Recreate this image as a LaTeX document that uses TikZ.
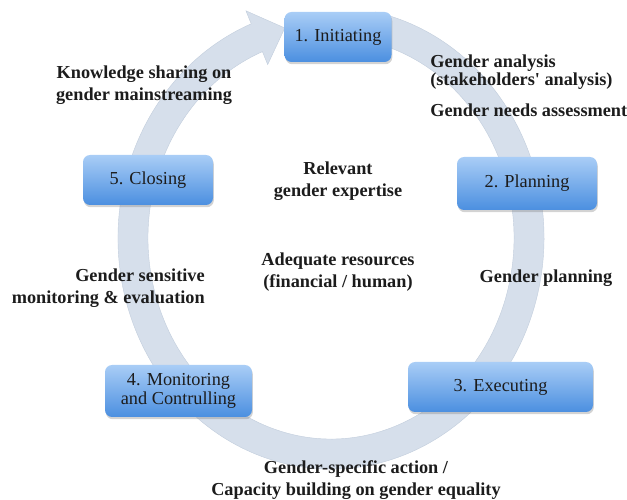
\documentclass[tikz,border=0pt]{standalone}
\usepackage{fontspec}
\setmainfont{Liberation Serif}
\usetikzlibrary{shadows,calc}
\definecolor{ringfill}{HTML}{D6DFEB}
\definecolor{ringedge}{HTML}{C3CEDD}
\definecolor{boxtop}{HTML}{A9CDF6}
\definecolor{boxbot}{HTML}{4B8FE0}
\definecolor{ink}{HTML}{1C1C1C}

\begin{document}
\begin{tikzpicture}[stage/.style={rectangle, rounded corners=5pt, top color=boxtop, bottom color=boxbot, draw=none, drop shadow={opacity=0.35, shadow xshift=0.6pt, shadow yshift=-1.6pt}, text=ink, font=\fontsize{13}{13}\selectfont, align=center, inner sep=0pt}, lbl/.style={text=ink, font=\fontsize{13}{15.5}\selectfont\bfseries, align=center, inner sep=0pt}]

				\useasboundingbox (0,0) rectangle (15.675,12.5);

				\coordinate (c) at (8.275,6.55);
				\filldraw[fill=ringfill, draw=ringedge, line width=0.3pt]
					($(c)+(78:5.325cm and 5.775cm)$) arc[start angle=78, end angle=-248, x radius=5.325cm, y radius=5.775cm]
					-- ($(c)+(112:5.675cm and 6.125cm)$) -- ($(c)+(103.5:4.95cm and 5.4cm)$) -- ($(c)+(112:4.225cm and 4.675cm)$)
					-- ($(c)+(112:4.575cm and 5.025cm)$) arc[start angle=112, end angle=438, x radius=4.575cm, y radius=5.025cm] -- cycle;

				\node[stage, minimum width=2.675cm, minimum height=1.25cm] (initiating) at (8.45,11.575) {1. Initiating};
				\node[stage, minimum width=3.5cm, minimum height=1.325cm] (planning) at (13.175,7.9125) {2. Planning};
				\node[stage, minimum width=4.625cm, minimum height=1.25cm] (executing) at (12.5125,2.825) {3. Executing};
				\node[stage, minimum width=3.675cm, minimum height=1.3cm] (monitoring) at (4.4625,2.725) {4. Monitoring\\and Contrulling};
				\node[stage, minimum width=3.25cm, minimum height=1.25cm] (closing) at (3.7,8.0) {5. Closing};

				\node[lbl] (knowledge) at (3.6,10.375) {Knowledge sharing on\\gender mainstreaming};
				\node[lbl, anchor=west, align=left, font=\fontsize{13}{11.5}\selectfont\bfseries] (analysis) at (10.75,10.69) {Gender analysis\\(stakeholders\textquotesingle\ analysis)};
				\node[lbl, anchor=west] (needs) at (10.75,9.75) {Gender needs assessment};
				\node[lbl] (expertise) at (8.45,7.975) {Relevant\\gender expertise};
				\node[lbl] (resources) at (8.45,5.7) {Adequate resources\\(financial / human)};
				\node[lbl] (gplanning) at (13.65,5.55) {Gender planning};
				\node[lbl, anchor=east, align=right] (sensitive) at (5.125,5.3) {Gender sensitive\\monitoring \& evaluation};
				\node[lbl] (action) at (8.9,0.5) {Gender-specific action /\\Capacity building on gender equality};

			\end{tikzpicture}
\end{document}
